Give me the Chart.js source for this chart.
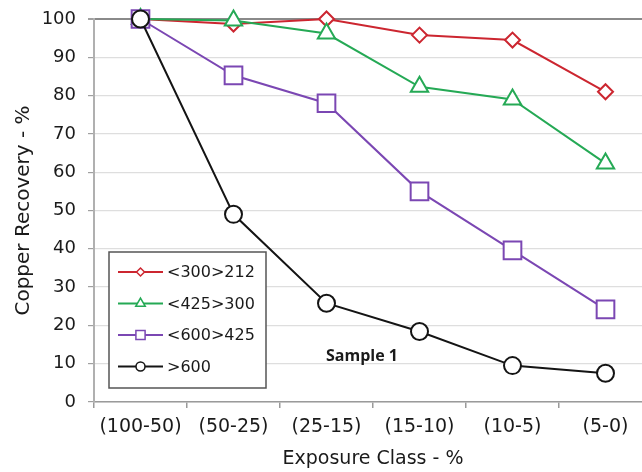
<!DOCTYPE html>
<html>
<head>
<meta charset="utf-8">
<script src="https://cdn.jsdelivr.net/npm/chart.js"></script>
<style>
  html, body { margin: 0; padding: 0; background: #fff; overflow: hidden; width: 642px; height: 472px; }
  #wrap { width: 652px; height: 472px; }
</style>
</head>
<body>
<div id="wrap"><canvas id="recoveryChart" width="652" height="472"></canvas></div>
<script>
// exposure classes and copper recovery per size fraction
const categories = ['(100-50)', '(50-25)', '(25-15)', '(15-10)', '(10-5)', '(5-0)'];
const size300to212 = [100, 98.7, 100, 95.8, 94.5, 81];
const size425to300 = [100, 99.6, 96.2, 82.3, 79, 62.3];
const size600to425 = [100, 85.3, 78, 55, 39.6, 24.2];
const sizeOver600 = [100, 49, 25.8, 18.4, 9.5, 7.5];
const yTicks = [0, 10, 20, 30, 40, 50, 60, 70, 80, 90, 100];

const seriesLabels = ['<300>212', '<425>300', '<600>425', '>600'];
const seriesColors = ['#cc2630', '#25a955', '#7b47b3', '#141414'];
const seriesShapes = ['rectRot', 'triangle', 'rect', 'circle'];
const seriesRadius = [7.5, 10, 12.5, 8.5];
const legendRadius = [4, 5.5, 6.5, 4.5];

const FONT = '"DejaVu Sans", sans-serif';

function makeDataset(i, values) {
    return {
        label: seriesLabels[i],
        data: values,
        borderColor: seriesColors[i],
        backgroundColor: '#ffffff',
        borderWidth: 2,
        pointStyle: seriesShapes[i],
        pointRadius: seriesRadius[i],
        pointBorderWidth: 2,
        pointBorderColor: seriesColors[i],
        pointBackgroundColor: '#ffffff',
        tension: 0,
        clip: false,
        order: 3 - i
    };
}

// legend box sitting inside the plot, plus the "Sample 1" note
const boxLegend = {
    id: 'boxLegend',
    afterDatasetsDraw(chart) {
        const ctx = chart.ctx;
        ctx.save();
        ctx.fillStyle = '#ffffff';
        ctx.fillRect(109, 252, 157, 136);
        ctx.strokeStyle = '#555555';
        ctx.lineWidth = 1.5;
        ctx.strokeRect(109, 252, 157, 136);

        const rowY = [272, 303.5, 335, 366.5];
        chart.data.datasets.forEach((ds, i) => {
            const y = rowY[i];
            ctx.strokeStyle = ds.borderColor;
            ctx.lineWidth = 2;
            ctx.beginPath();
            ctx.moveTo(118, y);
            ctx.lineTo(163, y);
            ctx.stroke();
            ctx.fillStyle = '#ffffff';
            ctx.lineWidth = 1.5;
            Chart.helpers.drawPoint(ctx, { pointStyle: ds.pointStyle, radius: legendRadius[i], rotation: 0, borderWidth: 1.5 }, 140.5, y);
            ctx.fillStyle = '#1a1a1a';
            ctx.font = '16px ' + FONT;
            ctx.textAlign = 'left';
            ctx.textBaseline = 'middle';
            ctx.fillText(ds.label, 167, y + 1);
        });

        ctx.fillStyle = '#1a1a1a';
        ctx.font = 'bold 16px "Open Sans", sans-serif';
        ctx.textAlign = 'center';
        ctx.textBaseline = 'middle';
        ctx.fillText('Sample 1', 362, 356);
        ctx.restore();
    }
};

const ctx = document.getElementById('recoveryChart').getContext('2d');
const recoveryChart = new Chart(ctx, {
    type: 'line',
    data: {
        labels: categories,
        datasets: [
            makeDataset(0, size300to212),
            makeDataset(1, size425to300),
            makeDataset(2, size600to425),
            makeDataset(3, sizeOver600)
        ]
    },
    options: {
        responsive: false,
        animation: false,
        devicePixelRatio: 1,
        layout: { autoPadding: false, padding: { top: 19, right: 0, left: 0, bottom: 0 } },
        plugins: {
            legend: { display: false },
            tooltip: { enabled: false }
        },
        scales: {
            x: {
                offset: true,
                grid: {
                    offset: true,
                    drawOnChartArea: false,
                    drawTicks: true,
                    tickLength: 6,
                    color: '#9a9a9a',
                    lineWidth: 1.5
                },
                border: { color: '#9a9a9a', width: 1.5 },
                ticks: {
                    color: '#1a1a1a',
                    font: { family: FONT, size: 19 },
                    padding: 8,
                    maxRotation: 0,
                    autoSkip: false
                },
                title: {
                    display: true,
                    text: 'Exposure Class - %',
                    color: '#1a1a1a',
                    font: { family: FONT, size: 19 },
                    padding: { top: 2, bottom: 2 }
                },
                afterFit(scale) {
                    scale.height = 70;
                    scale.paddingLeft = 0;
                    scale.paddingRight = 0;
                }
            },
            y: {
                min: 0,
                max: 100,
                afterBuildTicks(scale) { scale.ticks = yTicks.map(v => ({ value: v })); },
                grid: {
                    color: c => (c.tick && c.tick.value === 100) ? '#8a8a8a' : '#dedede',
                    lineWidth: c => (c.tick && c.tick.value === 100) ? 2 : 1.2,
                    tickColor: '#a0a0a0',
                    tickLength: 6
                },
                border: { color: '#b0b0b0', width: 2 },
                ticks: {
                    color: '#1a1a1a',
                    font: { family: FONT, size: 18 },
                    padding: 12
                },
                title: {
                    display: true,
                    text: 'Copper Recovery - %',
                    color: '#1a1a1a',
                    font: { family: FONT, size: 20 },
                    padding: { top: 12, bottom: 0 }
                },
                afterFit(scale) {
                    scale.width = 94;
                    scale.paddingTop = 0;
                    scale.paddingBottom = 0;
                }
            }
        }
    },
    plugins: [boxLegend]
});
</script>
</body>
</html>
